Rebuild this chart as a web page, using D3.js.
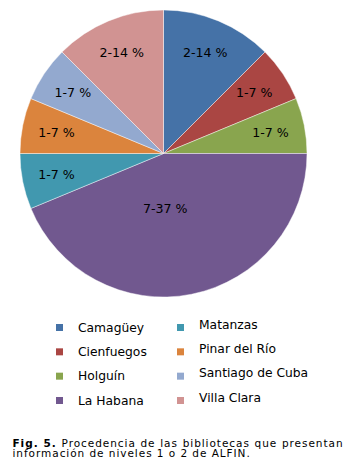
<!DOCTYPE html>
<html>
<head>
<meta charset="utf-8">
<script src="https://cdn.jsdelivr.net/npm/d3@7"></script>
<style>
  html, body { margin: 0; padding: 0; background: #fff; }
  svg { display: block; }
  text { font-family: "DejaVu Sans", Verdana, sans-serif; fill: #000; }
</style>
</head>
<body>
<svg id="chart" width="356" height="474"></svg>
<script>
const categories = ["Camagüey", "Cienfuegos", "Holguín", "La Habana", "Matanzas", "Pinar del Río", "Santiago de Cuba", "Villa Clara"];
const values = [2, 1, 1, 7, 1, 1, 1, 2];
const sliceLabels = ["2-14 %", "1-7 %", "1-7 %", "7-37 %", "1-7 %", "1-7 %", "1-7 %", "2-14 %"];
const colors = ["#4572A7", "#AA4643", "#89A54E", "#71588F", "#4198AF", "#DB843D", "#93A9CF", "#D19392"];
const captionBold = "Fig. 5.";
const captionLines = [" Procedencia de las bibliotecas que presentan", "información de niveles 1 o 2 de ALFIN."];

const svg = d3.select("#chart");
const W = 356, H = 474;
svg.append("rect").attr("width", W).attr("height", H).attr("fill", "#fff");

const cx = 163.5, cy = 153.5, R = 143.5;
const data = categories.map((c, i) => ({ name: c, value: values[i], label: sliceLabels[i], color: colors[i] }));

const pie = d3.pie().value(d => d.value).sort(null);
const arcs = pie(data);
const arc = d3.arc().innerRadius(0).outerRadius(R);

const g = svg.append("g").attr("transform", `translate(${cx},${cy})`);
g.selectAll("path.slice").data(arcs).join("path")
  .attr("class", "slice")
  .attr("d", arc)
  .attr("fill", d => d.data.color)
  .attr("stroke", "#fff")
  .attr("stroke-opacity", 0.55)
  .attr("stroke-width", 0.8);

const total = d3.sum(values);
const labelArc = d => {
  const frac = d.data.value / total;
  const r = frac > 0.3 ? R * 0.38 : R * 0.76;
  return d3.arc().innerRadius(r).outerRadius(r);
};
g.selectAll("text.lbl").data(arcs).join("text")
  .attr("class", "lbl")
  .attr("transform", d => {
    let a = d;
    if (d.data.value / total > 0.3) {
      a = { startAngle: Math.PI * 0.99, endAngle: Math.PI * 0.99 };
    }
    const c = labelArc(d).centroid(a);
    return `translate(${c[0]},${c[1]})`;
  })
  .attr("text-anchor", "middle")
  .attr("dominant-baseline", "central")
  .attr("font-size", "12.6px")
  .attr("fill", "#111")
  .text(d => d.data.label);

// Legend
const rowY = d3.scaleLinear().domain([0, 3]).range([324, 397]);
const cols = [
  { sqX: 56, textX: 78, textDy: 7.8 },
  { sqX: 177, textX: 199, textDy: 4.6 }
];
const legend = svg.append("g");
data.forEach((d, i) => {
  const col = cols[Math.floor(i / 4)];
  const row = i % 4;
  const y = rowY(row);
  legend.append("rect")
    .attr("x", col.sqX).attr("y", y)
    .attr("width", 7).attr("height", 7)
    .attr("fill", d.color);
  legend.append("text")
    .attr("x", col.textX).attr("y", y + col.textDy)
    .attr("font-size", "12.3px")
    .text(d.name);
});

// Caption (first line justified to full width)
const capStyle = sel => sel.attr("font-size", "10.5px").attr("letter-spacing", "0.95px");
const cap = svg.append("text").attr("x", 12.5).attr("y", 446.5).call(capStyle);
cap.append("tspan").attr("font-weight", "bold").text(captionBold);
cap.append("tspan").text(captionLines[0]);
const targetW = 331;
const curW = cap.node().getComputedTextLength();
const spaces = (captionBold + captionLines[0]).split(" ").length - 1;
if (curW < targetW && spaces > 0) cap.attr("word-spacing", ((targetW - curW) / spaces) + "px");
svg.append("text").attr("x", 12.5).attr("y", 457).call(capStyle).text(captionLines[1]);
</script>
</body>
</html>
